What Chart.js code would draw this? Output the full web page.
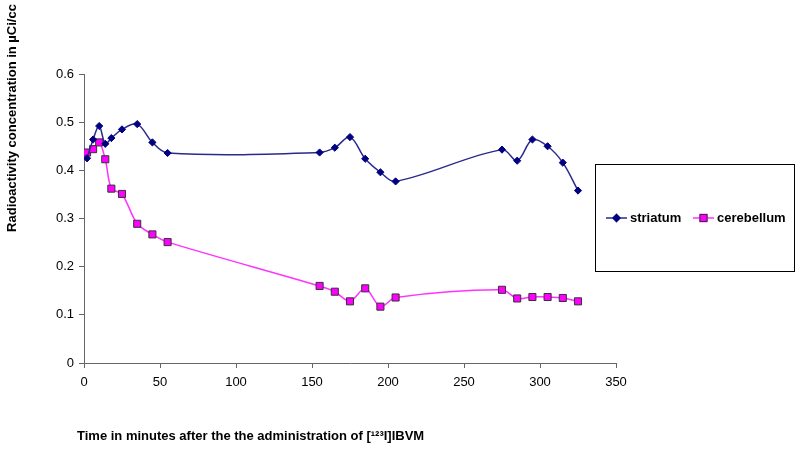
<!DOCTYPE html>
<html>
<head>
<meta charset="utf-8">
<script src="https://cdn.jsdelivr.net/npm/chart.js@4/dist/chart.umd.min.js"></script>
<style>
  html, body { margin: 0; padding: 0; background: #fff; }
  #wrap { width: 800px; height: 449px; position: relative; }
</style>
</head>
<body>
<div id="wrap"><canvas id="myChart" width="800" height="449"></canvas></div>
<script>
var times = [2, 6, 10, 14, 18, 25, 35, 45, 55, 155, 165, 175, 185, 195, 205, 275, 285, 295, 305, 315, 325];
var striatum = [0.425, 0.464, 0.492, 0.455, 0.467, 0.485, 0.496, 0.458, 0.436, 0.437, 0.447, 0.469, 0.424, 0.396, 0.377, 0.443, 0.420, 0.464, 0.450, 0.416, 0.358];
var cerebellum = [0.437, 0.444, 0.458, 0.423, 0.362, 0.351, 0.289, 0.267, 0.251, 0.160, 0.148, 0.128, 0.155, 0.117, 0.136, 0.152, 0.134, 0.137, 0.137, 0.135, 0.128];
var seriesNames = ["striatum", "cerebellum"];
var xTitle = "Time in minutes after the the administration of [\u00B9\u00B2\u00B3I]IBVM";
var yTitle = "Radioactivity concentration in \u00B5Ci/cc";

function toPoints(xs, ys) {
  var pts = [];
  for (var i = 0; i < xs.length; i++) {
    pts.push({ x: xs[i], y: ys[i] });
  }
  return pts;
}

var FONT = "'Liberation Sans', Arial, sans-serif";
var axisColor = "#666666";

// titles and the boxed legend, drawn where the original has them
var extras = {
  id: "extras",
  afterDraw: function (chart) {
    var ctx = chart.ctx;
    ctx.save();
    ctx.fillStyle = "#000";
    ctx.font = "bold 13px " + FONT;
    ctx.textBaseline = "middle";

    // x title
    ctx.textAlign = "left";
    ctx.fillText(xTitle, 77, 436);

    // y title
    ctx.save();
    ctx.translate(12, 118);
    ctx.rotate(-Math.PI / 2);
    ctx.textAlign = "center";
    ctx.fillText(yTitle, 0, 0);
    ctx.restore();

    // legend box
    ctx.strokeStyle = "#000";
    ctx.lineWidth = 1;
    ctx.strokeRect(595.5, 164.5, 199, 107);

    var itemsX = [606, 693];
    var ly = 218;
    chart.data.datasets.forEach(function (ds, i) {
      var x0 = itemsX[i];
      ctx.strokeStyle = ds.borderColor;
      ctx.lineWidth = 1.5;
      ctx.beginPath();
      ctx.moveTo(x0, ly);
      ctx.lineTo(x0 + 21, ly);
      ctx.stroke();
      Chart.helpers.drawPoint(ctx, {
        pointStyle: ds.pointStyle,
        radius: ds.pointRadius,
        rotation: 0,
        borderWidth: ds.pointBorderWidth
      }, x0 + 10.5, ly);
      ctx.fillStyle = ds.pointBackgroundColor;
      ctx.strokeStyle = ds.pointBorderColor;
      ctx.lineWidth = ds.pointBorderWidth;
      ctx.fill();
      ctx.stroke();
      ctx.fillStyle = "#000";
      ctx.textAlign = "left";
      ctx.fillText(ds.label, x0 + 24, ly);
    });
    ctx.restore();
  }
};

var ctx = document.getElementById("myChart").getContext("2d");
var chart = new Chart(ctx, {
  type: "line",
  data: {
    datasets: [
      {
        label: seriesNames[0],
        data: toPoints(times, striatum),
        borderColor: "#2a2a8c",
        borderWidth: 1.5,
        pointStyle: "rectRot",
        pointRadius: 3.6,
        pointBackgroundColor: "#000080",
        pointBorderColor: "#000080",
        pointBorderWidth: 1,
        tension: 0.35,
        fill: false
      },
      {
        label: seriesNames[1],
        data: toPoints(times, cerebellum),
        borderColor: "#ff33ff",
        borderWidth: 1.5,
        pointStyle: "rect",
        pointRadius: 5,
        pointBackgroundColor: "#ff00ff",
        pointBorderColor: "#333333",
        pointBorderWidth: 1,
        tension: 0.3,
        fill: false
      }
    ]
  },
  options: {
    responsive: false,
    animation: false,
    layout: { padding: { left: 0, right: 184, top: 74, bottom: 0 } },
    plugins: {
      legend: { display: false },
      tooltip: { enabled: false }
    },
    scales: {
      x: {
        type: "linear",
        min: 0,
        max: 350,
        afterFit: function (scale) { scale.height = 86; },
        ticks: { stepSize: 50, color: "#000", font: { family: FONT, size: 13 }, padding: 7 },
        grid: { drawOnChartArea: false, drawTicks: true, tickLength: 5, color: axisColor },
        border: { color: axisColor, width: 1 }
      },
      y: {
        min: 0,
        max: 0.6,
        afterFit: function (scale) { scale.width = 84; },
        ticks: { stepSize: 0.1, color: "#000", font: { family: FONT, size: 13 }, padding: 5 },
        grid: { drawOnChartArea: false, drawTicks: true, tickLength: 5, color: axisColor },
        border: { color: axisColor, width: 1 }
      }
    }
  },
  plugins: [extras]
});
</script>
</body>
</html>
